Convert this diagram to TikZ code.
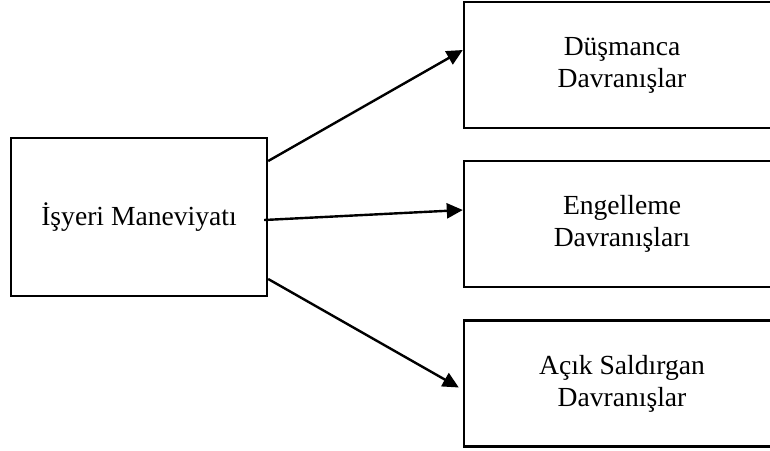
\documentclass[tikz,border=0pt]{standalone}
\usepackage{fontspec}
\setmainfont{Liberation Serif}
\usepackage{tikz}
\usetikzlibrary{arrows.meta}
\tikzset{
    causebox/.style={
        draw=black, line width=1.2pt,
        minimum width=128pt, minimum height=79pt,
        font=\fontsize{13.8}{16}\selectfont, align=center
    },
    effectbox/.style={
        draw=black, line width=1.2pt,
        minimum width=158pt, minimum height=63pt,
        font=\fontsize{13.8}{16}\selectfont, align=center
    },
    arrow/.style={-{Triangle[length=8pt,width=7.5pt]}, line width=1.2pt, color=black},
}
\begin{document}
\begin{tikzpicture}[x=0.5pt, y=-0.5pt]
    \clip (0,0) rectangle (770,450);
    \useasboundingbox (0,0) rectangle (770,450);
    \fill[white] (0,0) rectangle (770,450);
    \node[causebox] (isyeri) at (139,217) {İşyeri Maneviyatı};
    \node[effectbox] (dusmanca) at (622,65) {Düşmanca\\Davranışlar};
    \node[effectbox] (engelleme) at (622,224) {Engelleme\\Davranışları};
    \node[effectbox] (saldirgan) at (622,383.5) {Açık Saldırgan\\Davranışlar};
    \draw[arrow] ([yshift=28pt]isyeri.east) -- ([yshift=7.5pt]dusmanca.west);
    \draw[arrow] ([xshift=-2pt, yshift=-1.5pt]isyeri.east) -- ([yshift=7pt]engelleme.west);
    \draw[arrow] ([yshift=-31pt]isyeri.east) -- ([xshift=-2pt, yshift=-2pt]saldirgan.west);
\end{tikzpicture}
\end{document}
